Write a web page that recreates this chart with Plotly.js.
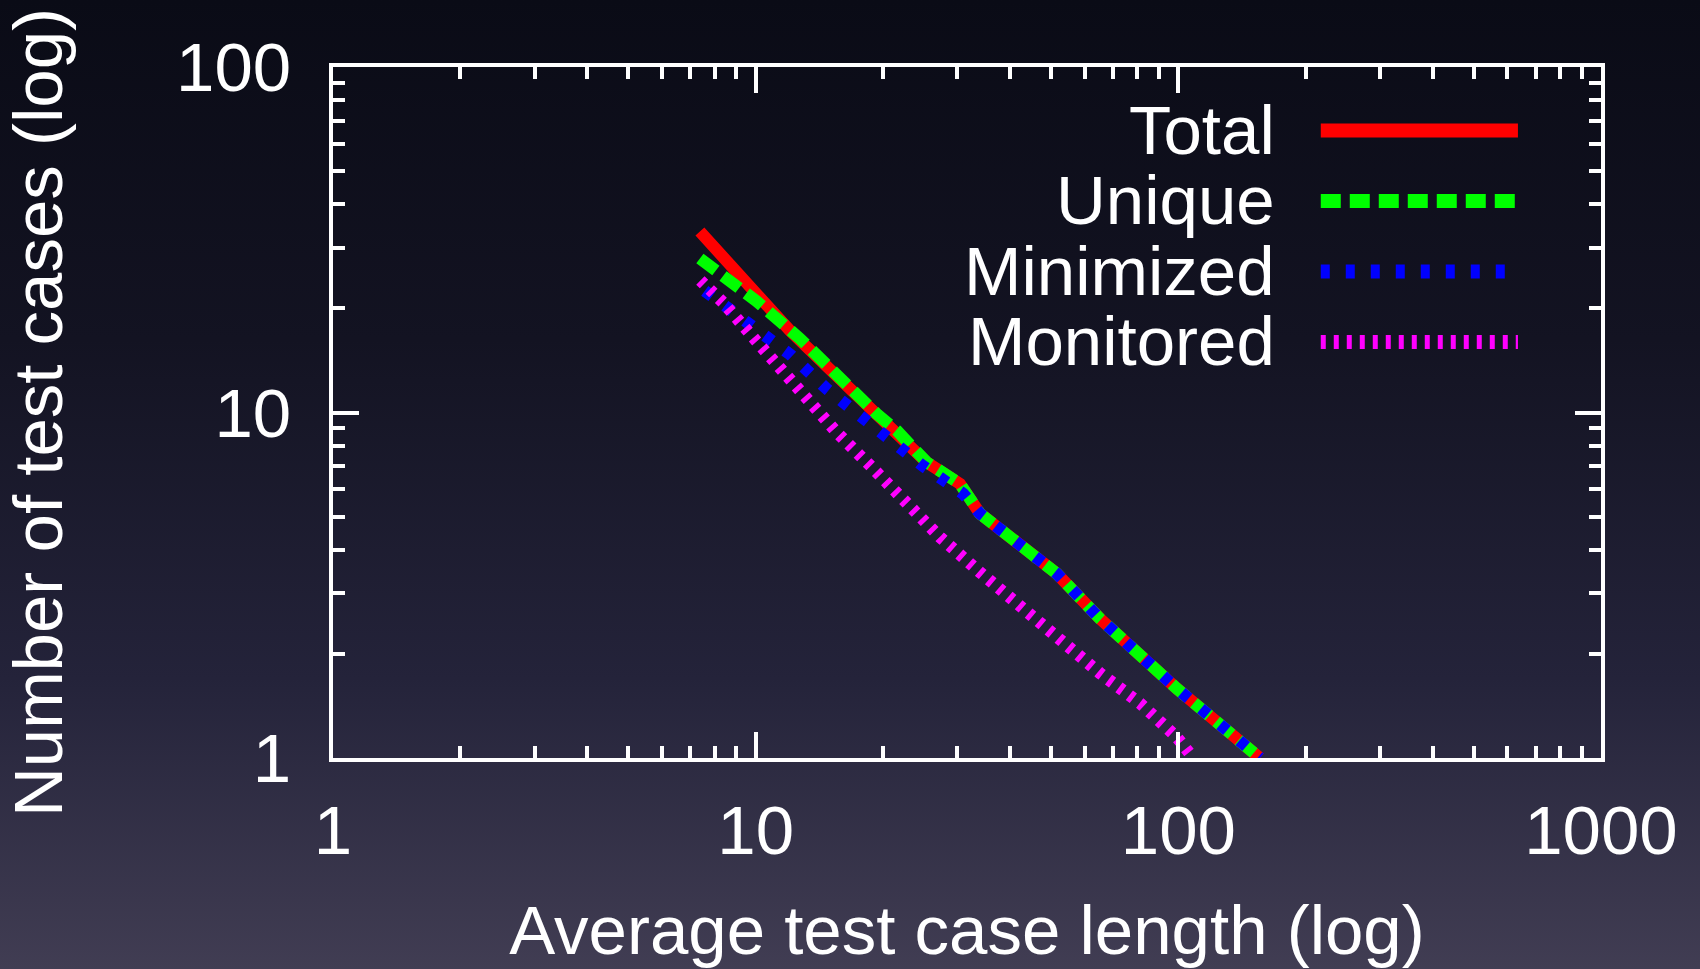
<!DOCTYPE html>
<html>
<head>
<meta charset="utf-8">
<script src="https://cdn.plot.ly/plotly-3.0.1.min.js"></script>
<style>
  html, body { margin: 0; padding: 0; }
  body {
    width: 1700px; height: 969px; overflow: hidden;
    background: linear-gradient(to bottom, #0a0b16 0%, #131322 35%, #24233a 70%, #413d53 100%);
  }
  #chart { width: 1700px; height: 969px; }
</style>
</head>
<body>
<div id="chart"></div>
<script>
// Series names
const seriesNames = ["Total", "Unique", "Minimized", "Monitored"];

// Total
const totalX = [7.38, 10.61, 12.05, 15.23, 19.33, 21.56, 23.17, 25.38, 30.43, 33.93, 51.55, 65.26, 99.1, 156];
const totalY = [33.4, 20.4, 17.26, 13.08, 9.91, 8.87, 8.03, 7.18, 6.22, 5.10, 3.42, 2.53, 1.59, 1.0];

// Unique
const uniqueX = [7.38, 10.05, 12.72, 15.23, 19.33, 21.56, 23.17, 25.38, 30.43, 33.93, 51.55, 65.26, 99.1, 156];
const uniqueY = [27.9, 21.0, 16.37, 13.08, 9.91, 8.87, 8.03, 7.18, 6.22, 5.10, 3.42, 2.53, 1.59, 1.0];

// Minimized
const minimizedX = [7.58, 9.78, 12.09, 14.72, 17.94, 24.78, 30.97, 33.93, 51.55, 65.26, 99.1, 156];
const minimizedY = [22.5, 17.84, 14.69, 11.71, 9.61, 7.03, 5.82, 5.10, 3.42, 2.53, 1.59, 1.0];

// Monitored
const monitoredX = [7.4, 8.38, 10.05, 12.50, 15.54, 18.81, 22.76, 27.29, 33.93, 38.53, 47.07, 55.42, 65.26, 81.2, 99.1, 108.5];
const monitoredY = [24.1, 20.8, 16.07, 11.84, 8.77, 6.95, 5.51, 4.36, 3.45, 3.02, 2.45, 2.05, 1.76, 1.44, 1.15, 1.0];

// Tick labels
const xTickVals = [1, 10, 100, 1000];
const xTickText = ["1", "10", "100", "1000"];
const yTickVals = [1, 10, 100];
const yTickText = ["1", "10", "100"];

const colors = ["#ff0000", "#00ff00", "#0000ff", "#ff00ff"];
const dashes = ["solid", "20px,9px", "9px,16px", "5px,8px"];
const LW = 12;
const FS = 69;
const FONT = "Liberation Sans, Arial, Helvetica, sans-serif";

const xs = [totalX, uniqueX, minimizedX, monitoredX];
const ys = [totalY, uniqueY, minimizedY, monitoredY];

const traces = seriesNames.map((name, i) => ({
  type: "scatter",
  mode: "lines",
  name: name,
  x: xs[i],
  y: ys[i],
  line: { color: colors[i], width: LW, dash: dashes[i] },
  showlegend: false,
  cliponaxis: true
}));

function minorVals(decades) {
  const out = [];
  for (let d = 0; d < decades; d++) {
    for (let k = 2; k <= 9; k++) out.push(k * Math.pow(10, d));
  }
  return out;
}

const axisCommon = {
  type: "log",
  showgrid: false,
  zeroline: false,
  showline: true,
  linecolor: "#ffffff",
  linewidth: 4,
  mirror: "allticks",
  ticks: "inside",
  ticklen: 26,
  tickwidth: 4,
  tickcolor: "#ffffff",
  tickmode: "array",
  tickfont: { family: FONT, size: FS, color: "#ffffff" }
};

// Legend drawn as annotations (text on the left) and shapes (line samples on the right)
const legendRowsY = [0.9082, 0.8062, 0.7042, 0.6022];
const annotations = seriesNames.map((name, i) => ({
  xref: "paper", yref: "paper",
  x: 0.7445, y: legendRowsY[i],
  xanchor: "right", yanchor: "middle",
  text: name, showarrow: false,
  font: { family: FONT, size: FS, color: "#ffffff" }
}));
const shapes = seriesNames.map((name, i) => ({
  type: "line", xref: "paper", yref: "paper",
  x0: 0.779, x1: 0.9345, y0: legendRowsY[i], y1: legendRowsY[i],
  line: { color: colors[i], width: LW + 2, dash: dashes[i] }
}));

const layout = {
  width: 1700,
  height: 969,
  paper_bgcolor: "rgba(0,0,0,0)",
  plot_bgcolor: "rgba(0,0,0,0)",
  margin: { l: 333, r: 99, t: 67, b: 211 },
  font: { family: FONT, color: "#ffffff", size: FS },
  showlegend: false,
  xaxis: Object.assign({}, axisCommon, {
    range: [0, 3],
    tickvals: xTickVals,
    ticktext: xTickText,
    ticklabelstandoff: 9,
    minor: { ticks: "inside", ticklen: 12, tickwidth: 4, tickcolor: "#ffffff", tickvals: minorVals(3) },
    title: { text: "Average test case length (log)", font: { family: FONT, size: FS, color: "#ffffff" }, standoff: 55 }
  }),
  yaxis: Object.assign({}, axisCommon, {
    range: [0, 2],
    tickvals: yTickVals,
    ticktext: yTickText,
    ticklabelstandoff: 24,
    minor: { ticks: "inside", ticklen: 12, tickwidth: 4, tickcolor: "#ffffff", tickvals: minorVals(2) },
    title: { text: "Number of test cases (log)", font: { family: FONT, size: FS, color: "#ffffff" }, standoff: 92 }
  }),
  annotations: annotations,
  shapes: shapes
};

Plotly.newPlot("chart", traces, layout, { displayModeBar: false, staticPlot: true });
</script>
</body>
</html>
